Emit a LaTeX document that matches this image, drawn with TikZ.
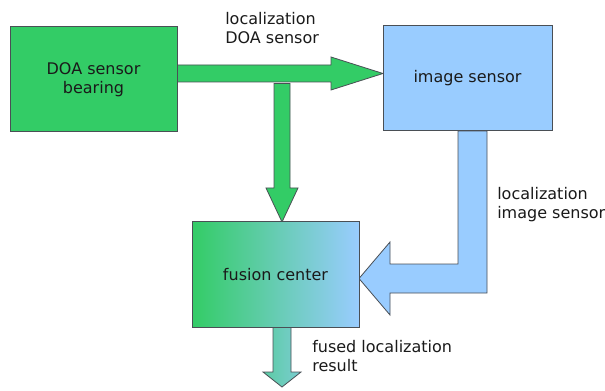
\documentclass[tikz,border=0pt]{standalone}
\usepackage{fontspec}
\setmainfont{DejaVu Sans}
\usetikzlibrary{backgrounds}
\definecolor{doagreen}{HTML}{33CC66}
\definecolor{imgblue}{HTML}{99CCFF}
\definecolor{edgegray}{HTML}{4A4F55}
\definecolor{txtgray}{HTML}{1A1A1A}
\tikzset{
  box/.style={draw=edgegray, line width=0.75pt, outer sep=0pt, inner sep=0pt,
    minimum width=125.25pt, minimum height=78.75pt, align=center,
    text=txtgray, font=\fontsize{12}{14.6}\selectfont},
  lbl/.style={anchor=north west, inner sep=0pt, align=left,
    text=txtgray, font=\fontsize{12}{14.6}\selectfont},
  blockarrow/.style={draw=edgegray, line width=0.6pt, line join=miter}
}
\begin{document}
\begin{tikzpicture}[x=0.75pt,y=0.75pt,yscale=-1,xscale=1]
	\useasboundingbox (0,0) rectangle (605,391);
	% boxes
	\node[box, fill=doagreen] (doa) at (93.5,79.5) {DOA sensor\\bearing};
	\node[box, fill=imgblue, minimum width=126.75pt] (img) at (467.5,78.5) {image sensor};
	\node[box, left color=doagreen, right color=imgblue] (fusion) at (275.5,274.5) {fusion center};
	% labels
	\node[lbl] (doalbl) at (225,12) {localization\\DOA sensor};
	\node[lbl] (imglbl) at (497,187) {localization\\image sensor};
	\node[lbl] (fusedlbl) at (312,340) {fused localization\\result};
	% block arrows
	\begin{scope}[on background layer]
		\draw[blockarrow, fill=doagreen] (doa.east |- 0,65) -- (331,65) -- (331,57) -- (img.west |- 0,73.5) -- (331,90) -- (331,82) -- (doa.east |- 0,82) -- cycle;
		\draw[blockarrow, fill=doagreen] (274,83.5) -- (274,188) -- (266,188) -- (282,0 |- fusion.north) -- (298,188) -- (290,188) -- (290,83.5) -- cycle;
		\draw[blockarrow, fill=imgblue] (458,0 |- img.south) -- (458,264) -- (390,264) -- (390,242) -- (fusion.east |- 0,278.5) -- (390,315) -- (390,293) -- (487,293) -- (487,0 |- img.south) -- cycle;
		\draw[blockarrow, left color=doagreen!60!imgblue, right color=doagreen!30!imgblue] (273,0 |- fusion.south) -- (273,372) -- (263,372) -- (282,387) -- (301,372) -- (291,372) -- (291,0 |- fusion.south) -- cycle;
	\end{scope}
\end{tikzpicture}
\end{document}
